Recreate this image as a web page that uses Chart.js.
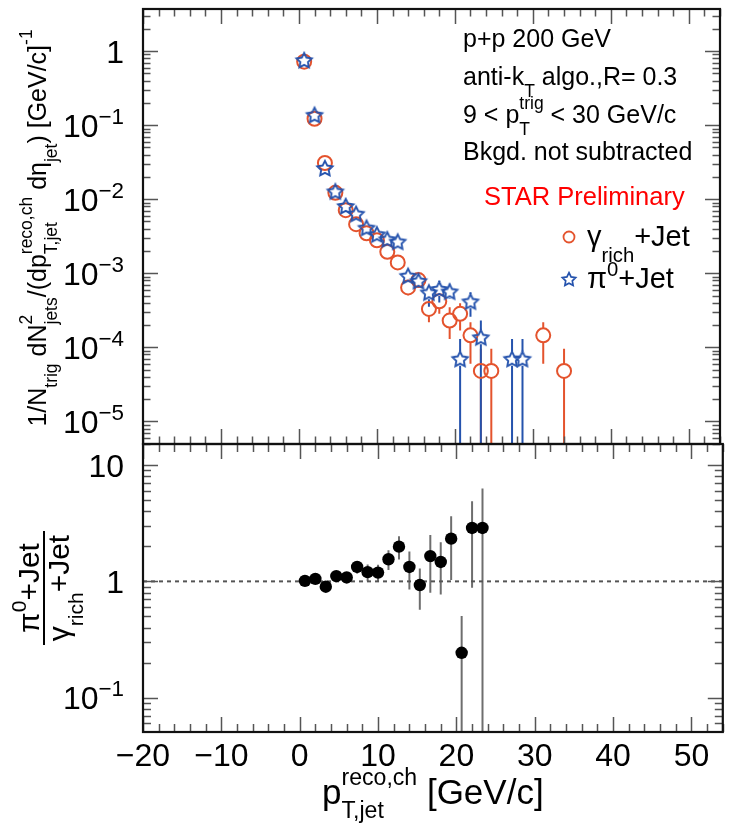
<!DOCTYPE html>
<html>
<head>
<meta charset="utf-8">
<script src="https://cdn.jsdelivr.net/npm/chart.js@4.4.1/dist/chart.umd.min.js"></script>
<style>
  html, body { margin: 0; padding: 0; background: #fff; }
  #wrap { position: relative; width: 729px; height: 825px; }
  canvas { position: absolute; left: 0; top: 0; }
</style>
</head>
<body>
<div id="wrap">
  <canvas id="specChart" width="729" height="825"></canvas>
  <canvas id="ratioChart" width="729" height="825"></canvas>
</div>
<script>
// values (bins of 4/3 GeV/c)
const xGamma = [0.67, 2.0, 3.33, 4.67, 6.0, 7.33, 8.67, 10.0, 11.33, 12.67, 14.0, 15.33, 16.67, 18.0, 19.33, 20.67, 22.0, 23.33, 24.67, 31.33, 34.0];
const yGamma = [0.72, 0.122, 0.0308, 0.0122, 0.0071, 0.0046, 0.00347, 0.00279, 0.00195, 0.0014, 6.44e-4, 8.1e-4, 3.3e-4, 4.18e-4, 2.3e-4, 2.83e-4, 1.45e-4, 4.8e-5, 4.8e-5, 1.45e-4, 4.8e-5];
const eGammaLo = [0.03, 0.005, 0.0012, 0.0006, 0.0004, 0.0003, 0.00025, 0.0002, 0.00018, 0.00016, 1.4e-4, 1.2e-4, 1.12e-4, 1.35e-4, 1.0e-4, 1.14e-4, 0.85e-4, 4.8e-5, 4.8e-5, 0.85e-4, 4.8e-5];
const eGammaHi = [0.03, 0.005, 0.0012, 0.0006, 0.0004, 0.0003, 0.00025, 0.0002, 0.00018, 0.00016, 1.2e-4, 1.2e-4, 0.96e-4, 1.07e-4, 1.17e-4, 1.1e-4, 0.73e-4, 4.8e-5, 4.8e-5, 0.73e-4, 4.8e-5];

const xPi0 = [0.67, 2.0, 3.33, 4.67, 6.0, 7.33, 8.67, 10.0, 11.33, 12.67, 14.0, 15.33, 16.67, 18.0, 19.33, 20.67, 22.0, 23.33, 27.33, 28.67];
const yPi0 = [0.757, 0.138, 0.0264, 0.0128, 0.0081, 0.00637, 0.00413, 0.00336, 0.00288, 0.00268, 9.25e-4, 7.9e-4, 5.52e-4, 6.13e-4, 5.69e-4, 7.0e-5, 4.18e-4, 1.37e-4, 7.0e-5, 7.0e-5];
const ePi0Lo = [0.03, 0.005, 0.0012, 0.0006, 0.0005, 0.0004, 0.0003, 0.00025, 0.0002, 0.0002, 1.4e-4, 1.3e-4, 2.0e-4, 2.1e-4, 1.2e-4, 7.0e-5, 1.6e-4, 1.37e-4, 7.0e-5, 7.0e-5];
const ePi0Hi = [0.03, 0.005, 0.0012, 0.0006, 0.0005, 0.0004, 0.0003, 0.00025, 0.0002, 0.0002, 1.4e-4, 1.3e-4, 1.3e-4, 1.8e-4, 1.5e-4, 6.0e-5, 1.34e-4, 0.93e-4, 6.0e-5, 6.0e-5];

const xRatio = [0.67, 2.0, 3.33, 4.67, 6.0, 7.33, 8.67, 10.0, 11.33, 12.67, 14.0, 15.33, 16.67, 18.0, 19.33, 20.67, 22.0, 23.33];
const yRatio = [1.01, 1.05, 0.90, 1.11, 1.08, 1.33, 1.20, 1.19, 1.55, 1.99, 1.33, 0.93, 1.65, 1.47, 2.33, 0.243, 2.88, 2.88];
const eRatio = [0.04, 0.05, 0.05, 0.06, 0.07, 0.16, 0.2, 0.2, 0.3, 0.45, 0.48, 0.36, 0.85, 0.7, 1.3, 0.26, 2.0, 3.4];
const unityY = 1;

const xTicks = [-20, -10, 0, 10, 20, 30, 40, 50];
const xTickLabels = ['\u221220', '\u221210', '0', '10', '20', '30', '40', '50'];
const specTicks = [1, 0.1, 0.01, 0.001, 1e-4, 1e-5];
const specTickLabels = ['1', '10^\u22121', '10^\u22122', '10^\u22123', '10^\u22124', '10^\u22125'];
const ratioTicks = [10, 1, 0.1];
const ratioTickLabels = ['10', '1', '10^\u22121'];

const RED = '#e4532d';
const BLUE = '#2553ad';
const FONT = '"Liberation Sans", Arial, Helvetica, sans-serif';

function makeStar(color, R, lw) {
  const s = Math.ceil(2 * R + 2 * lw + 2);
  const c = document.createElement('canvas');
  c.width = s; c.height = s;
  const g = c.getContext('2d');
  g.translate(s / 2, s / 2 + R * 0.1);
  g.beginPath();
  for (let k = 0; k < 10; k++) {
    const r = k % 2 ? R * 0.5 : R;
    const a = -Math.PI / 2 + k * Math.PI / 5;
    g.lineTo(r * Math.cos(a), r * Math.sin(a));
  }
  g.closePath();
  g.strokeStyle = color; g.lineWidth = lw; g.stroke();
  return c;
}
const starImg = makeStar(BLUE, 8, 1.9);

// text with ROOT-like sub/superscripts
function rich(ctx, segs, x, y, size, align, scale) {
  const sc = (scale || 0.7) * size;
  const m = [];
  let w = 0;
  segs.forEach(s => {
    ctx.font = size + 'px ' + FONT;
    const wt = ctx.measureText(s.t || '').width;
    ctx.font = sc + 'px ' + FONT;
    const wu = s.sup ? ctx.measureText(s.sup).width : 0;
    const wd = s.sub ? ctx.measureText(s.sub).width : 0;
    m.push([wt, wu, wd]);
    w += wt + Math.max(wu, wd);
  });
  let cx = align === 'center' ? x - w / 2 : align === 'right' ? x - w : x;
  ctx.textAlign = 'left';
  ctx.textBaseline = 'alphabetic';
  segs.forEach((s, i) => {
    const [wt, wu, wd] = m[i];
    ctx.font = size + 'px ' + FONT;
    ctx.fillText(s.t || '', cx, y);
    cx += wt;
    ctx.font = sc + 'px ' + FONT;
    if (s.sup) ctx.fillText(s.sup, cx, y - (s.up ?? 0.55) * size);
    if (s.sub) ctx.fillText(s.sub, cx, y + (s.dn ?? 0.42) * size);
    cx += Math.max(wu, wd);
  });
  return w;
}

function tickLabel(ctx, label, x, y, size) {
  const p = label.split('^');
  const segs = p.length > 1 ? [{ t: p[0], sup: p[1], up: 0.4 }] : [{ t: p[0] }];
  rich(ctx, segs, x, y, size, 'right');
}

function frameAndTicks(chart, len) {
  const { ctx, chartArea: a, scales: { x, y } } = chart;
  ctx.save();
  ctx.strokeStyle = '#555';
  ctx.lineWidth = 1.5;
  ctx.beginPath();
  for (let v = -20; v <= x.max; v += 2) {
    const px = Math.round(x.getPixelForValue(v)) + 0.5;
    const L = v % 10 === 0 ? len.xMajor : len.xMinor;
    ctx.moveTo(px, a.bottom); ctx.lineTo(px, a.bottom - L);
    ctx.moveTo(px, a.top); ctx.lineTo(px, a.top + L);
  }
  const d0 = Math.floor(Math.log10(y.min)), d1 = Math.ceil(Math.log10(y.max));
  for (let d = d0; d <= d1; d++) {
    for (let k = 1; k <= 9; k++) {
      const v = k * Math.pow(10, d);
      if (v < y.min || v > y.max) continue;
      const py = Math.round(y.getPixelForValue(v)) + 0.5;
      const L = k === 1 ? len.yMajor : len.yMinor;
      ctx.moveTo(a.left, py); ctx.lineTo(a.left + L, py);
      ctx.moveTo(a.right, py); ctx.lineTo(a.right - L, py);
    }
  }
  ctx.stroke();
  ctx.strokeStyle = '#111';
  ctx.lineWidth = 2.2;
  ctx.strokeRect(a.left, a.top, a.right - a.left, a.bottom - a.top);
  ctx.restore();
}

function errorBars(chart, xs, ys, lo, hi, color, gap) {
  const { ctx, chartArea: a, scales: { x, y } } = chart;
  ctx.save();
  ctx.beginPath();
  ctx.rect(a.left, a.top, a.right - a.left, a.bottom - a.top);
  ctx.clip();
  ctx.strokeStyle = color;
  ctx.lineWidth = 2;
  ctx.beginPath();
  xs.forEach((xv, i) => {
    const px = x.getPixelForValue(xv);
    const py = y.getPixelForValue(ys[i]);
    const low = ys[i] - lo[i];
    const pLow = low > 0 ? Math.min(y.getPixelForValue(low), a.bottom) : a.bottom;
    const pHigh = y.getPixelForValue(ys[i] + hi[i]);
    if (pHigh < py - gap) { ctx.moveTo(px, py - gap); ctx.lineTo(px, pHigh); }
    if (pLow > py + gap) { ctx.moveTo(px, py + gap); ctx.lineTo(px, pLow); }
  });
  ctx.stroke();
  ctx.restore();
}

const specPlugin = {
  id: 'specDecor',
  beforeDatasetsDraw(chart) {
    errorBars(chart, xGamma, yGamma, eGammaLo, eGammaHi, RED, 7);
    errorBars(chart, xPi0, yPi0, ePi0Lo, ePi0Hi, BLUE, 7);
  },
  afterDraw(chart) {
    const { ctx, scales: { y } } = chart;
    frameAndTicks(chart, { xMajor: 15, xMinor: 7.5, yMajor: 15, yMinor: 7.5 });
    ctx.save();
    ctx.fillStyle = '#000';
    specTicks.forEach((v, i) => tickLabel(ctx, specTickLabels[i], 124, y.getPixelForValue(v) + 11.5, 32));

    // y title
    ctx.save();
    ctx.translate(46, 228);
    ctx.rotate(-Math.PI / 2);
    rich(ctx, [
      { t: '1/N', sub: 'trig' },
      { t: ' dN', sup: '2', sub: 'jets' },
      { t: '/(dp', sup: 'reco,ch', sub: 'T,jet' },
      { t: ' d\u03b7', sub: 'jet' },
      { t: ') [GeV/c]', sup: '-1' }
    ], 0, 0, 25, 'center');
    ctx.restore();

    // info text
    rich(ctx, [{ t: 'p+p 200 GeV' }], 463, 47, 25, 'left');
    rich(ctx, [{ t: 'anti-k', sub: 'T', dn: 0.46 }, { t: ' algo.,R= 0.3' }], 463, 85, 25, 'left');
    rich(ctx, [{ t: '9 < p', sup: 'trig', sub: 'T', up: 0.58, dn: 0.48 }, { t: ' < 30 GeV/c' }], 463, 123, 25, 'left');
    rich(ctx, [{ t: 'Bkgd. not subtracted' }], 463, 160, 25, 'left');
    ctx.fillStyle = '#ff0000';
    rich(ctx, [{ t: 'STAR Preliminary' }], 484, 205, 25.5, 'left');

    // legend
    ctx.fillStyle = '#000';
    ctx.strokeStyle = RED;
    ctx.lineWidth = 1.8;
    ctx.beginPath();
    ctx.arc(569, 237, 5.5, 0, Math.PI * 2);
    ctx.stroke();
    rich(ctx, [{ t: '\u03b3', sub: 'rich', dn: 0.55 }, { t: '+Jet' }], 587, 246, 29, 'left');
    const st = makeStar(BLUE, 7, 1.7);
    ctx.drawImage(st, 569 - st.width / 2, 279 - st.height / 2);
    rich(ctx, [{ t: '\u03c0', sup: '0', up: 0.4 }, { t: '+Jet' }], 587, 288, 29, 'left');
    ctx.restore();
  }
};

const ratioPlugin = {
  id: 'ratioDecor',
  beforeDatasetsDraw(chart) {
    errorBars(chart, xRatio, yRatio, eRatio, eRatio, '#6e6e6e', 0);
  },
  afterDraw(chart) {
    const { ctx, scales: { x, y } } = chart;
    frameAndTicks(chart, { xMajor: 15, xMinor: 8, yMajor: 15, yMinor: 8 });
    ctx.save();
    ctx.fillStyle = '#000';
    ratioTicks.forEach((v, i) => tickLabel(ctx, ratioTickLabels[i], 124, y.getPixelForValue(v) + 11.5, 32));
    xTicks.forEach((v, i) => rich(ctx, [{ t: xTickLabels[i] }], x.getPixelForValue(v), 766, 32, 'center'));

    // x title
    rich(ctx, [{ t: 'p', sup: 'reco,ch', sub: 'T,jet', up: 0.55, dn: 0.4 }, { t: ' [GeV/c]' }], 322, 804, 35, 'left', 0.66);

    // y title: fraction
    ctx.translate(44, 588);
    ctx.rotate(-Math.PI / 2);
    rich(ctx, [{ t: '\u03c0', sup: '0', up: 0.42 }, { t: '+Jet' }], 0, -5, 30, 'center');
    rich(ctx, [{ t: '\u03b3', sub: 'rich', dn: 0.45 }, { t: '+Jet' }], 0, 25, 30, 'center');
    ctx.strokeStyle = '#000';
    ctx.lineWidth = 2;
    ctx.beginPath();
    ctx.moveTo(-57, 0); ctx.lineTo(57, 0);
    ctx.stroke();
    ctx.restore();
  }
};

const commonOpts = (padding, yMin, yMax) => ({
  responsive: false,
  animation: false,
  events: [],
  layout: { padding },
  scales: {
    x: { type: 'linear', min: -20, max: 54, display: false },
    y: { type: 'logarithmic', min: yMin, max: yMax, display: false }
  },
  plugins: { legend: { display: false }, tooltip: { enabled: false } }
});

new Chart(document.getElementById('specChart'), {
  type: 'scatter',
  data: {
    datasets: [{
      label: '\u03b3rich+Jet',
      data: xGamma.map((v, i) => ({ x: v, y: yGamma[i] })),
      pointStyle: 'circle',
      pointRadius: 7,
      borderWidth: 2,
      borderColor: RED,
      backgroundColor: 'rgba(0,0,0,0)',
      order: 2
    }, {
      label: '\u03c00+Jet',
      data: xPi0.map((v, i) => ({ x: v, y: yPi0[i] })),
      pointStyle: starImg,
      pointRadius: 8,
      borderColor: BLUE,
      backgroundColor: 'rgba(0,0,0,0)',
      order: 1
    }]
  },
  options: commonOpts({ left: 143, right: 2, top: 7, bottom: 381 }, 4.95e-6, 3.7),
  plugins: [specPlugin]
});

new Chart(document.getElementById('ratioChart'), {
  type: 'scatter',
  data: {
    datasets: [{
      label: 'ratio',
      data: xRatio.map((v, i) => ({ x: v, y: yRatio[i] })),
      pointStyle: 'circle',
      pointRadius: 6.2,
      borderWidth: 0,
      backgroundColor: '#000',
      order: 1
    }, {
      label: 'unity',
      data: [{ x: -20, y: unityY }, { x: 54, y: unityY }],
      showLine: true,
      pointRadius: 0,
      borderColor: '#555',
      borderWidth: 2,
      borderDash: [4, 4],
      order: 2
    }]
  },
  options: commonOpts({ left: 143, right: 2, top: 444, bottom: 93 }, 0.0506, 15.2),
  plugins: [ratioPlugin]
});
</script>
</body>
</html>
